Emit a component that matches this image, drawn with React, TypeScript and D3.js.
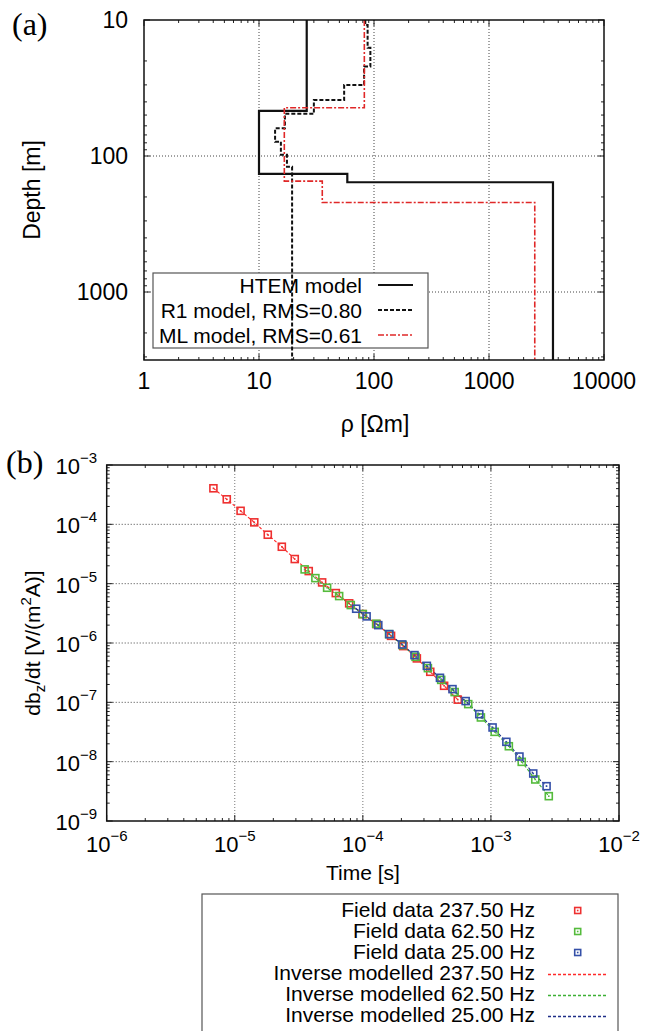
import React from "react";
import * as d3 from "d3";

// ---------- Panel (a) data ----------
const rhoTicks = [1, 10, 100, 1000, 10000];
const depthTicks = [10, 100, 1000];
const depthMax = 3162;

const htemRho = [26, 10, 58.6, 3600];
const htemDepth = [46.5, 135.5, 156];

const r1Rho = [84, 88, 93, 82, 55, 30, 16.8, 13.8, 15.5, 17.5, 19.4];
const r1Depth = [10.9, 16, 22, 30, 38.7, 49, 62.5, 78.5, 98, 120];

const mlRho = [82.4, 16.6, 35.5, 2500];
const mlDepth = [44.2, 153, 220];

const legendA = ["HTEM model", "R1 model, RMS=0.80", "ML model, RMS=0.61"];

// ---------- Panel (b) data ----------
const timeTickExp = [-6, -5, -4, -3, -2];
const dbdtTickExp = [-3, -4, -5, -6, -7, -8, -9];

const t237 = [6.81e-6, 8.66e-6, 1.11e-5, 1.42e-5, 1.81e-5, 2.33e-5, 2.94e-5, 3.78e-5, 4.81e-5, 6.15e-5, 7.82e-5, 9.93e-5, 1.28e-4, 1.66e-4, 2.07e-4, 2.64e-4, 3.36e-4, 4.31e-4, 5.51e-4];
const v237 = [4.05e-4, 2.64e-4, 1.69e-4, 1.08e-4, 6.68e-5, 4.19e-5, 2.6e-5, 1.63e-5, 1.05e-5, 6.94e-6, 4.66e-6, 3.07e-6, 2.08e-6, 1.32e-6, 8.87e-7, 5.5e-7, 3.27e-7, 1.9e-7, 1.11e-7];

const t62 = [3.51e-5, 4.26e-5, 5.26e-5, 6.53e-5, 8.05e-5, 1.0e-4, 1.27e-4, 1.6e-4, 2.04e-4, 2.58e-4, 3.22e-4, 4.09e-4, 5.21e-4, 6.65e-4, 8.35e-4, 1.07e-3, 1.38e-3, 1.74e-3, 2.22e-3, 2.83e-3];
const v62 = [1.74e-5, 1.24e-5, 8.53e-6, 6.18e-6, 4.36e-6, 3.07e-6, 2.11e-6, 1.41e-6, 9.22e-7, 5.85e-7, 3.77e-7, 2.39e-7, 1.49e-7, 9.33e-8, 5.56e-8, 3.18e-8, 1.82e-8, 9.93e-9, 5.01e-9, 2.62e-9];

const t25 = [8.87e-5, 1.07e-4, 1.32e-4, 1.61e-4, 2.03e-4, 2.53e-4, 3.16e-4, 4.0e-4, 5.01e-4, 6.35e-4, 8.11e-4, 1.03e-3, 1.32e-3, 1.67e-3, 2.14e-3, 2.72e-3];
const v25 = [3.78e-6, 2.81e-6, 2.0e-6, 1.41e-6, 9.46e-7, 6.25e-7, 4.12e-7, 2.59e-7, 1.67e-7, 1.05e-7, 6.32e-8, 3.77e-8, 2.16e-8, 1.22e-8, 6.32e-9, 3.86e-9];

const legendB = [
  "Field data 237.50 Hz",
  "Field data 62.50 Hz",
  "Field data 25.00 Hz",
  "Inverse modelled 237.50 Hz",
  "Inverse modelled 62.50 Hz",
  "Inverse modelled 25.00 Hz",
];

const SANS = "'Liberation Sans', Arial, Helvetica, sans-serif";
const SERIF = "'Liberation Serif', 'DejaVu Serif', serif";
const RED = "#ee3030";
const GREEN = "#55bb3c";
const BLUE = "#3550a8";

function minorTicks(lo: number, hi: number): number[] {
  const out: number[] = [];
  for (let e = Math.floor(Math.log10(lo)); e <= Math.ceil(Math.log10(hi)); e++) {
    for (let m = 1; m <= 9; m++) {
      const v = m * Math.pow(10, e);
      if (v >= lo * 0.9999 && v <= hi * 1.0001) out.push(v);
    }
  }
  return out;
}

function stepPoints(rho: number[], bounds: number[], top: number, bottom: number): [number, number][] {
  const pts: [number, number][] = [];
  const edges = [top, ...bounds, bottom];
  rho.forEach((r, i) => {
    pts.push([r, edges[i]]);
    pts.push([r, edges[i + 1]]);
  });
  return pts;
}

function PanelA() {
  const L = 144, R = 604, T = 20, B = 360;
  const x = d3.scaleLog().domain([1, 10000]).range([L, R]);
  const y = d3.scaleLog().domain([10, depthMax]).range([T, B]);
  const line = d3.line<[number, number]>().x((d) => x(d[0])).y((d) => y(d[1]));
  const xMinor = minorTicks(1, 10000);
  const yMinor = minorTicks(10, depthMax);
  const isMajor = (v: number) => Math.abs(Math.log10(v) - Math.round(Math.log10(v))) < 1e-9;

  const htem = stepPoints(htemRho, htemDepth, 10, depthMax);
  const r1 = stepPoints(r1Rho, r1Depth, 10, depthMax);
  const ml = stepPoints(mlRho, mlDepth, 10, depthMax);

  const styles = [
    { stroke: "#111", dash: "none", w: 2.2 },
    { stroke: "#111", dash: "4,2", w: 2 },
    { stroke: "#e02828", dash: "6,2,2,2", w: 1.6 },
  ];

  return (
    <g>
      <text x={12} y={35} fontFamily={SERIF} fontSize={32}>(a)</text>
      {rhoTicks.slice(1, -1).map((v) => (
        <line key={"gx" + v} x1={x(v)} x2={x(v)} y1={T} y2={B} stroke="#444" strokeWidth={1} strokeDasharray="1,2" />
      ))}
      {depthTicks.slice(1).map((v) => (
        <line key={"gy" + v} x1={L} x2={R} y1={y(v)} y2={y(v)} stroke="#444" strokeWidth={1} strokeDasharray="1,2" />
      ))}
      {xMinor.map((v, i) => {
        const len = isMajor(v) ? 6 : 3;
        return (
          <g key={"tx" + i}>
            <line x1={x(v)} x2={x(v)} y1={B} y2={B - len} stroke="#222" />
            <line x1={x(v)} x2={x(v)} y1={T} y2={T + len} stroke="#222" />
          </g>
        );
      })}
      {yMinor.map((v, i) => {
        const len = isMajor(v) ? 6 : 3;
        return (
          <g key={"ty" + i}>
            <line x1={L} x2={L + len} y1={y(v)} y2={y(v)} stroke="#222" />
            <line x1={R} x2={R - len} y1={y(v)} y2={y(v)} stroke="#222" />
          </g>
        );
      })}
      <rect x={153} y={273} width={275} height={75} fill="#fff" stroke="#555" strokeWidth={1.2} />
      <path d={line(htem) || ""} fill="none" stroke={styles[0].stroke} strokeWidth={styles[0].w} />
      <path d={line(r1) || ""} fill="none" stroke={styles[1].stroke} strokeWidth={styles[1].w} strokeDasharray={styles[1].dash} />
      <path d={line(ml) || ""} fill="none" stroke={styles[2].stroke} strokeWidth={styles[2].w} strokeDasharray={styles[2].dash} />
      <rect x={L} y={T} width={R - L} height={B - T} fill="none" stroke="#111" strokeWidth={1.5} />
      {legendA.map((s, i) => (
        <g key={"la" + i}>
          <text x={362} y={285 + i * 25 + 7.5} textAnchor="end" fontFamily={SANS} fontSize={21}>{s}</text>
          <line x1={378} x2={413} y1={285 + i * 25} y2={285 + i * 25} stroke={styles[i].stroke} strokeWidth={styles[i].w} strokeDasharray={styles[i].dash} />
        </g>
      ))}
      {rhoTicks.map((v) => (
        <text key={"lx" + v} x={x(v)} y={389} textAnchor="middle" fontFamily={SANS} fontSize={23}>{String(v)}</text>
      ))}
      {depthTicks.map((v) => (
        <text key={"ly" + v} x={128} y={y(v) + 8} textAnchor="end" fontFamily={SANS} fontSize={23}>{String(v)}</text>
      ))}
      <text x={375} y={432} textAnchor="middle" fontFamily={SANS} fontSize={23}>ρ [Ωm]</text>
      <text transform={`translate(40,190) rotate(-90)`} textAnchor="middle" fontFamily={SANS} fontSize={23}>Depth [m]</text>
    </g>
  );
}

function Marker({ cx, cy, color, s = 7 }: { cx: number; cy: number; color: string; s?: number }) {
  return (
    <g>
      <rect x={cx - s / 2} y={cy - s / 2} width={s} height={s} fill="none" stroke={color} strokeWidth={1.6} />
      <rect x={cx - 0.8} y={cy - 0.8} width={1.6} height={1.6} fill={color} />
    </g>
  );
}

function PanelB() {
  const L = 106.7, R = 619, T = 465, B = 821;
  const x = d3.scaleLog().domain([1e-6, 1e-2]).range([L, R]);
  const y = d3.scaleLog().domain([1e-3, 1e-9]).range([T, B]);
  const xMinor = minorTicks(1e-6, 1e-2);
  const yMinor = minorTicks(1e-9, 1e-3);
  const isMajor = (v: number) => Math.abs(Math.log10(v) - Math.round(Math.log10(v))) < 1e-9;
  const line = d3.line<number>();

  const series = [
    { t: t237, v: v237, color: RED, lineColor: "#ff2a2a" },
    { t: t62, v: v62, color: GREEN, lineColor: "#3cb034" },
    { t: t25, v: v25, color: BLUE, lineColor: "#1f2f88" },
  ];

  return (
    <g>
      <text x={6} y={473} fontFamily={SERIF} fontSize={32}>(b)</text>
      {timeTickExp.slice(1, -1).map((e) => (
        <line key={"gx" + e} x1={x(Math.pow(10, e))} x2={x(Math.pow(10, e))} y1={T} y2={B} stroke="#777" strokeWidth={1} strokeDasharray="1,2" />
      ))}
      {dbdtTickExp.slice(1, -1).map((e) => (
        <line key={"gy" + e} x1={L} x2={R} y1={y(Math.pow(10, e))} y2={y(Math.pow(10, e))} stroke="#444" strokeWidth={1} strokeDasharray="1,2" />
      ))}
      {xMinor.map((v, i) => {
        const len = isMajor(v) ? 6 : 3;
        return (
          <g key={"tx" + i}>
            <line x1={x(v)} x2={x(v)} y1={B} y2={B - len} stroke="#222" />
            <line x1={x(v)} x2={x(v)} y1={T} y2={T + len} stroke="#222" />
          </g>
        );
      })}
      {yMinor.map((v, i) => {
        const len = isMajor(v) ? 6 : 3;
        return (
          <g key={"ty" + i}>
            <line x1={L} x2={L + len} y1={y(v)} y2={y(v)} stroke="#222" />
            <line x1={R} x2={R - len} y1={y(v)} y2={y(v)} stroke="#222" />
          </g>
        );
      })}
      {series.map((s, k) => (
        <path
          key={"ln" + k}
          d={line(s.t.map((t, i) => [x(t), y(s.v[i])] as [number, number])) || ""}
          fill="none"
          stroke={s.lineColor}
          strokeWidth={1.1}
          strokeDasharray="3,2"
        />
      ))}
      {series.map((s, k) =>
        s.t.map((t, i) => <Marker key={"m" + k + "-" + i} cx={x(t)} cy={y(s.v[i])} color={s.color} />)
      )}
      <rect x={L} y={T} width={R - L} height={B - T} fill="none" stroke="#111" strokeWidth={1.5} />
      {timeTickExp.map((e) => (
        <text key={"lx" + e} x={x(Math.pow(10, e))} y={852} textAnchor="middle" fontFamily={SANS} fontSize={22}>
          10<tspan dy={-11} fontSize={15}>{"\u2212" + Math.abs(e)}</tspan>
        </text>
      ))}
      {dbdtTickExp.map((e) => (
        <text key={"ly" + e} x={97} y={y(Math.pow(10, e)) + 9} textAnchor="end" fontFamily={SANS} fontSize={22}>
          10<tspan dy={-11} fontSize={15}>{"\u2212" + Math.abs(e)}</tspan>
        </text>
      ))}
      <text x={363} y={880} textAnchor="middle" fontFamily={SANS} fontSize={21}>Time [s]</text>
      <text transform={`translate(40,643) rotate(-90)`} textAnchor="middle" fontFamily={SANS} fontSize={21}>
        db<tspan dy={5} fontSize={15}>z</tspan>
        <tspan dy={-5}>/dt [V/(m</tspan>
        <tspan dy={-9} fontSize={15}>2</tspan>
        <tspan dy={9}>A)]</tspan>
      </text>
      <rect x={202} y={894} width={416} height={150} fill="#fff" stroke="#555" strokeWidth={1.2} />
      {legendB.map((s, i) => {
        const yb = 916.7 + i * 21.1;
        const cy = Math.round(yb - 6.5) + 0.5;
        const c = series[i % 3];
        return (
          <g key={"lb" + i}>
            <text x={535} y={yb} textAnchor="end" fontFamily={SANS} fontSize={21}>{s}</text>
            {i < 3 ? (
              <Marker cx={577.7} cy={cy} color={c.color} s={6} />
            ) : (
              <line x1={548} x2={607} y1={cy} y2={cy} stroke={c.lineColor} strokeWidth={1.4} strokeDasharray="3,2" />
            )}
          </g>
        );
      })}
    </g>
  );
}

export default function App() {
  return (
    <svg
      width={645}
      height={1031}
      viewBox="0 0 645 1031"
      style={{ position: "absolute", left: 0, top: 0, background: "#fff" }}
    >
      <rect x={0} y={0} width={645} height={1031} fill="#fff" />
      <PanelA />
      <PanelB />
    </svg>
  );
}
